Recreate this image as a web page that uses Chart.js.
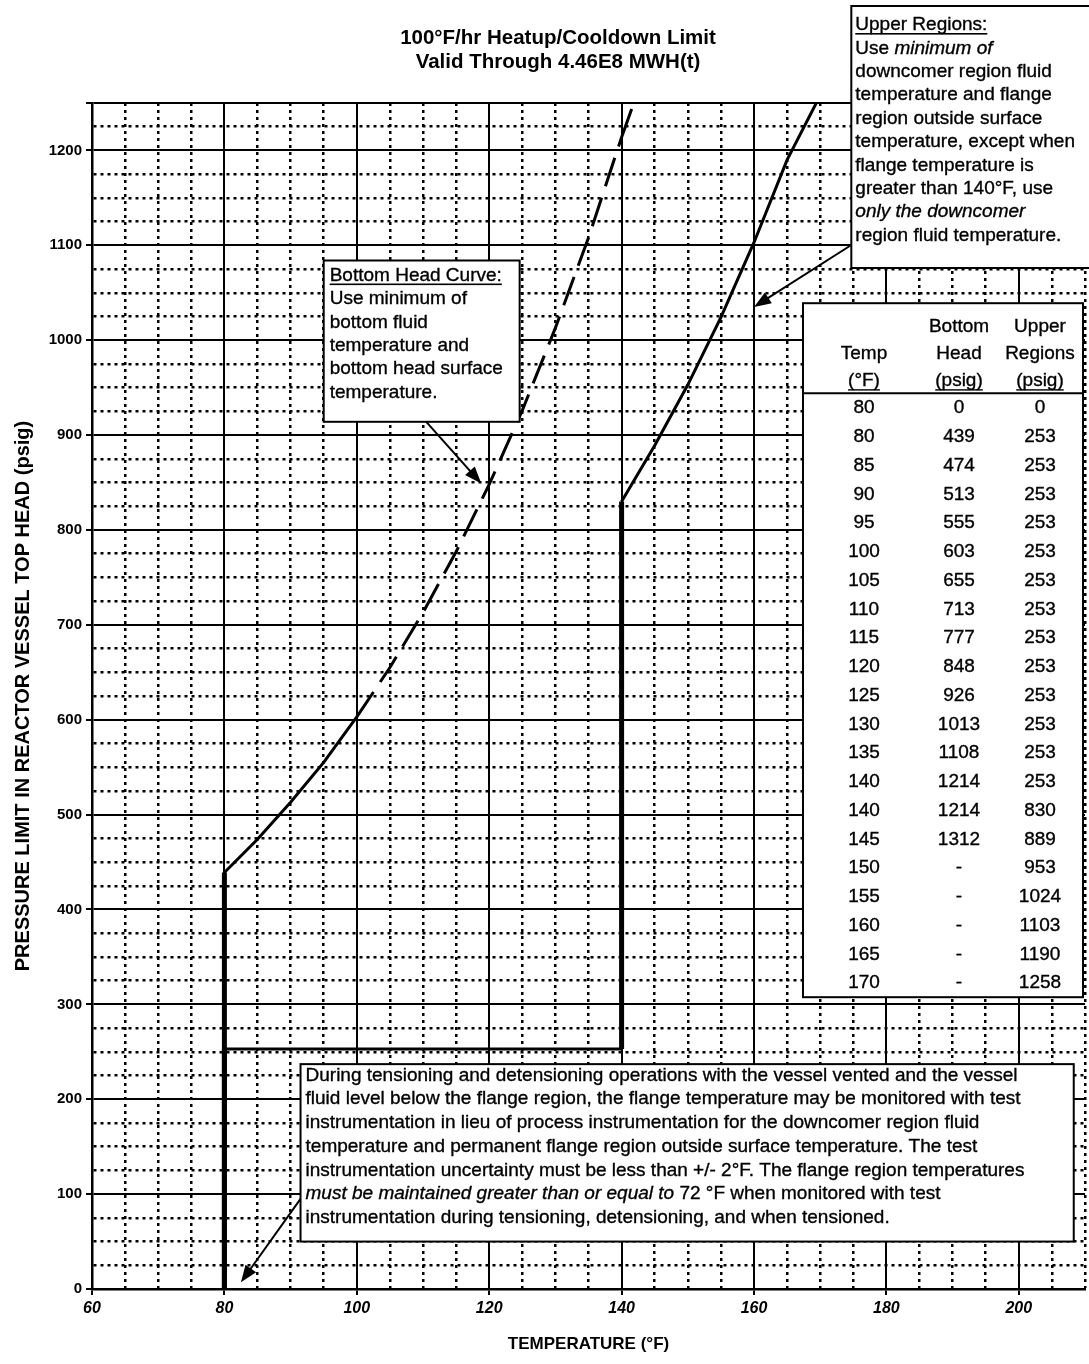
<!DOCTYPE html>
<html>
<head>
<meta charset="utf-8">
<script src="https://cdn.jsdelivr.net/npm/chart.js@4.4.0/dist/chart.umd.min.js"></script>
<style>
  html, body { margin: 0; padding: 0; background: #fff; }
</style>
</head>
<body>
<canvas id="limitChart" width="1089" height="1364"></canvas>
<script>
// values from the table printed on the chart
const tempF = [80, 80, 85, 90, 95, 100, 105, 110, 115, 120, 125, 130, 135, 140, 140, 145, 150, 155, 160, 165, 170];
const bottomHeadPsig = [0, 439, 474, 513, 555, 603, 655, 713, 777, 848, 926, 1013, 1108, 1214, 1214, 1312, null, null, null, null, null];
const upperRegionsPsig = [0, 253, 253, 253, 253, 253, 253, 253, 253, 253, 253, 253, 253, 253, 830, 889, 953, 1024, 1103, 1190, 1258];
const xTickLabels = [60, 80, 100, 120, 140, 160, 180, 200];
const yTickLabels = [0, 100, 200, 300, 400, 500, 600, 700, 800, 900, 1000, 1100, 1200];

const titleLines = ['100\u00b0F/hr Heatup/Cooldown Limit', 'Valid Through 4.46E8 MWH(t)'];
const tableHead = [['', 'Bottom', 'Upper'], ['Temp', 'Head', 'Regions'], ['(\u00b0F)', '(psig)', '(psig)']];

const BODY = '"Liberation Sans", Arial, sans-serif';

const bottomHeadPoints = [];
tempF.forEach((t, i) => { if (bottomHeadPsig[i] !== null) bottomHeadPoints.push({ x: t, y: bottomHeadPsig[i] }); });
const upperPoints = tempF.map((t, i) => ({ x: t, y: upperRegionsPsig[i] }));

const isMajorX = v => v % 20 === 0;
const isMajorY = v => v % 100 === 0 || v === 1250;

// draw a line of text made of runs, some italic
function runs(ctx, parts, x, y, size) {
  let cx = x;
  parts.forEach(p => {
    const it = typeof p === 'object' && p.i;
    const s = typeof p === 'object' ? p.t : p;
    ctx.font = (it ? 'italic ' : '') + size + 'px ' + BODY;
    ctx.fillText(s, cx, y);
    ctx.lineWidth = 0.35;
    ctx.strokeText(s, cx, y);
    cx += ctx.measureText(s).width;
  });
  return cx - x;
}

function underline(ctx, x, y, w) {
  ctx.fillRect(x, y + 8, w, 1.6);
}

function box(ctx, l, t, r, b) {
  ctx.fillStyle = '#fff';
  ctx.fillRect(l, t, r - l, b - t);
  ctx.strokeStyle = '#000';
  ctx.lineWidth = 2;
  ctx.strokeRect(l, t, r - l, b - t);
  ctx.fillStyle = '#000';
}

function arrow(ctx, x1, y1, x2, y2) {
  const a = Math.atan2(y2 - y1, x2 - x1);
  const len = 17, half = 6.5;
  ctx.strokeStyle = '#000';
  ctx.lineWidth = 2;
  ctx.beginPath();
  ctx.moveTo(x1, y1);
  ctx.lineTo(x2 - Math.cos(a) * len * 0.8, y2 - Math.sin(a) * len * 0.8);
  ctx.stroke();
  ctx.beginPath();
  ctx.moveTo(x2, y2);
  ctx.lineTo(x2 - Math.cos(a) * len - Math.sin(a) * half, y2 - Math.sin(a) * len + Math.cos(a) * half);
  ctx.lineTo(x2 - Math.cos(a) * len + Math.sin(a) * half, y2 - Math.sin(a) * len - Math.cos(a) * half);
  ctx.closePath();
  ctx.fill();
}

const notesPlugin = {
  id: 'notes',
  afterDraw(chart) {
    const { ctx } = chart;
    const px = v => chart.scales.x.getPixelForValue(v);
    const py = v => chart.scales.y.getPixelForValue(v);
    ctx.save();
    ctx.fillStyle = '#000';
    ctx.strokeStyle = '#000';
    ctx.textBaseline = 'middle';

    // title
    ctx.textAlign = 'center';
    ctx.font = 'bold 20.5px ' + BODY;
    ctx.fillText(titleLines[0], 558, 38);
    ctx.fillText(titleLines[1], 558, 62);
    ctx.textAlign = 'left';

    // upper regions note
    const ul = px(174.7);
    box(ctx, ul, 6, chart.width + 10, 268);
    const upperText = [
      ['Upper Regions:'],
      ['Use ', { t: 'minimum of', i: true }],
      ['downcomer region fluid'],
      ['temperature and flange'],
      ['region outside surface'],
      ['temperature, except when'],
      ['flange temperature is'],
      ['greater than 140\u00b0F, use'],
      [{ t: 'only the downcomer', i: true }],
      ['region fluid temperature.']
    ];
    upperText.forEach((ln, k) => {
      const w = runs(ctx, ln, ul + 4, 25 + k * 23.4, 19);
      if (k === 0) underline(ctx, ul + 4, 25, w);
    });
    arrow(ctx, ul, 245, px(160), py(1035));

    // bottom head note
    const bl = px(95), bt = py(1084);
    box(ctx, bl, bt, px(124.6), py(914));
    const bottomText = [
      ['Bottom Head Curve:'],
      ['Use minimum of'],
      ['bottom fluid'],
      ['temperature and'],
      ['bottom head surface'],
      ['temperature.']
    ];
    bottomText.forEach((ln, k) => {
      const w = runs(ctx, ln, bl + 6, bt + 15 + k * 23.4, 19);
      if (k === 0) underline(ctx, bl + 6, bt + 15, w);
    });
    arrow(ctx, px(110.5), py(914), px(118.8), py(849));

    // tensioning note
    const ll = px(91.5), lt = py(237);
    box(ctx, ll, lt, px(208.3), py(50));
    const lowerText = [
      ['During tensioning and detensioning operations with the vessel vented and the vessel'],
      ['fluid level below the flange region, the flange temperature may be monitored with test'],
      ['instrumentation in lieu of process instrumentation for the downcomer region fluid'],
      ['temperature and permanent flange region outside surface temperature. The test'],
      ['instrumentation uncertainty must be less than +/- 2\u00b0F. The flange region temperatures'],
      [{ t: 'must be maintained greater than or equal to', i: true }, ' 72 \u00b0F when monitored with test'],
      ['instrumentation during tensioning, detensioning, and when tensioned.']
    ];
    lowerText.forEach((ln, k) => runs(ctx, ln, ll + 5, py(225) + k * (py(0) - py(25)), 19));
    arrow(ctx, ll, py(95), px(82.5), py(7));

    // data table
    const tl = px(167.4), tt = py(1039), tr = px(209.7);
    const rowH = 28.75;
    const tb = tt + 105 + (tempF.length - 1) * rowH + 14;
    box(ctx, tl, tt, tr, tb);
    ctx.beginPath();
    ctx.moveTo(tl, tt + 90);
    ctx.lineTo(tr, tt + 90);
    ctx.stroke();
    const colX = [tl + 61, tl + 156, tl + 237];
    ctx.textAlign = 'center';
    ctx.font = '19px ' + BODY;
    ctx.lineWidth = 0.35;
    tableHead.forEach((row, r) => {
      row.forEach((s, c) => {
        const yy = tt + 24 + r * 27;
        ctx.fillText(s, colX[c], yy);
        ctx.strokeText(s, colX[c], yy);
        if (r === 2) {
          const w = ctx.measureText(s).width;
          ctx.fillRect(colX[c] - w / 2, yy + 8, w, 1.4);
        }
      });
    });
    tempF.forEach((t, i) => {
      const yy = tt + 105 + i * rowH;
      const cells = [String(t), bottomHeadPsig[i] === null ? '-' : String(bottomHeadPsig[i]), String(upperRegionsPsig[i])];
      cells.forEach((s, c) => {
        ctx.fillText(s, colX[c], yy);
        ctx.strokeText(s, colX[c], yy);
      });
    });
    ctx.restore();
  }
};

new Chart(document.getElementById('limitChart'), {
  type: 'scatter',
  data: {
    datasets: [
      {
        label: 'Bottom Head',
        data: bottomHeadPoints,
        showLine: true,
        borderColor: '#000',
        borderWidth: 3,
        pointRadius: 0,
        tension: 0,
        segment: {
          borderDash: c => c.p0.parsed.x >= 100 ? [30, 12] : undefined,
          borderWidth: c => c.p0.parsed.x === c.p1.parsed.x ? 5 : 3
        }
      },
      {
        label: 'Upper Regions',
        data: upperPoints,
        showLine: true,
        borderColor: '#000',
        borderWidth: 3,
        pointRadius: 0,
        tension: 0,
        segment: {
          borderWidth: c => c.p0.parsed.x === c.p1.parsed.x ? 5 : 3
        }
      }
    ]
  },
  options: {
    responsive: false,
    animation: false,
    layout: { padding: { top: 103, right: 0, left: 0, bottom: 0 } },
    plugins: {
      legend: { display: false },
      tooltip: { enabled: false }
    },
    scales: {
      x: {
        type: 'linear',
        min: 60,
        max: 210,
        afterFit: s => { s.height = 75; },
        ticks: {
          stepSize: 5,
          autoSkip: false,
          maxRotation: 0,
          padding: 4,
          color: '#000',
          font: { family: BODY, size: 16, weight: 'bold', style: 'italic' },
          callback: v => xTickLabels.includes(v) ? v : ''
        },
        grid: {
          color: '#000',
          lineWidth: c => c.tick && isMajorX(c.tick.value) ? 2 : 2.5,
          tickLength: 6,
          tickColor: c => c.tick && isMajorX(c.tick.value) ? '#000' : 'rgba(0,0,0,0)',
          tickWidth: 2
        },
        border: {
          color: '#000',
          width: 2.5,
          dash: c => (c.tick && !isMajorX(c.tick.value)) ? [3, 4] : []
        },
        title: {
          display: true,
          text: 'TEMPERATURE (\u00b0F)',
          color: '#000',
          font: { family: BODY, size: 17, weight: 'bold' },
          padding: { top: 0, bottom: 9 }
        }
      },
      y: {
        min: 0,
        max: 1250,
        afterFit: s => { s.width = 92; },
        ticks: {
          stepSize: 25,
          autoSkip: false,
          padding: 4,
          color: '#000',
          font: { family: BODY, size: 15, weight: 'bold' },
          callback: v => yTickLabels.includes(v) ? v : ''
        },
        grid: {
          color: '#000',
          lineWidth: c => c.tick && isMajorY(c.tick.value) ? 2 : 2.5,
          tickLength: 6,
          tickColor: c => c.tick && isMajorY(c.tick.value) ? '#000' : 'rgba(0,0,0,0)',
          tickWidth: 2
        },
        border: {
          color: '#000',
          width: 2.5,
          dash: c => (c.tick && !isMajorY(c.tick.value)) ? [3, 4] : []
        },
        title: {
          display: true,
          text: 'PRESSURE LIMIT IN REACTOR VESSEL TOP HEAD (psig)',
          color: '#000',
          font: { family: BODY, size: 20, weight: 'bold' },
          padding: { top: 11, bottom: 0 }
        }
      }
    }
  },
  plugins: [notesPlugin]
});
</script>
</body>
</html>
